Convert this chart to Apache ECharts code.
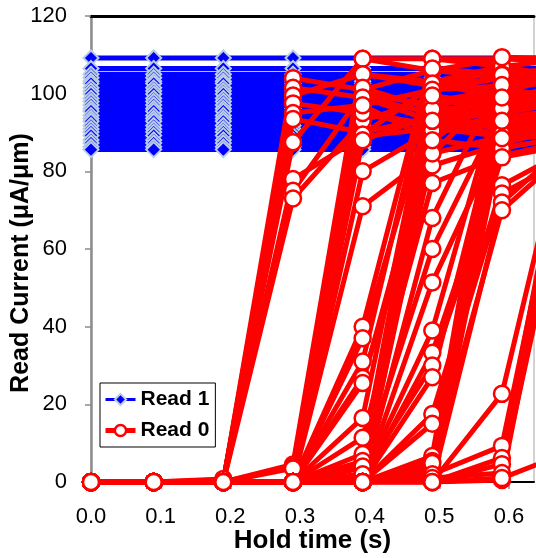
<!DOCTYPE html>
<html>
<head>
<meta charset="utf-8">
<script src="https://cdn.jsdelivr.net/npm/echarts@6/dist/echarts.min.js"></script>
<style>
html,body{margin:0;padding:0;background:#fff;}
#chart{width:536px;height:558px;}
</style>
</head>
<body>
<div id="chart"></div>
<script>
// Hold times (s) at which every cell was read
const holdTimes = [0, 0.09, 0.19, 0.29, 0.39, 0.49, 0.59, 0.69];
const xTickLabels = [0, 0.1, 0.2, 0.3, 0.4, 0.5, 0.6];
const yTickLabels = [0, 20, 40, 60, 80, 100, 120];

// Read 1 cells: current stays constant over hold time (uA/um)
const read1Levels = [109.2, 106.5, 105.0, 104.1, 103.2, 102.6, 101.5, 100.7, 99.9, 98.8, 98.0, 97.1,
  96.2, 95.5, 94.4, 93.6, 92.9, 91.8, 90.9, 90.1, 89.2, 88.1, 87.3, 86.3, 85.6];

// Read 0 cells, grouped by the hold time where they fail (values per hold time)
const read0FailAt029 = [
  [0, 0, 0, 104, 101, 106, 104, 105],
  [0, 0, 0, 101.5, 99, 95, 98, 103],
  [0, 0, 0, 99.5, 105, 103, 107, 104],
  [0, 0, 0, 97.5, 95, 92, 96, 99],
  [0, 0, 0, 95, 97, 101, 102, 97],
  [0, 0, 0.5, 93.5, 90, 94, 91, 93],
  [0, 0, 0, 87.5, 109, 109, 109, 109],
  [0, 0, 0, 78, 89, 91, 89, 91],
  [0, 0, 0.8, 75, 100, 97, 100, 106],
  [0, 0, 0, 73, 93, 99, 95, 101]
];
const read0FailAt039 = [
  [0, 0, 0, 4.5, 109, 106, 109, 108],
  [0, 0, 0, 0, 105, 102, 104, 106],
  [0, 0, 0, 4, 101.5, 96, 97, 100],
  [0, 0, 0, 0, 99, 93, 95, 98],
  [0, 0, 0, 0, 95, 91, 90, 92],
  [0, 0, 0, 3.5, 89.5, 102, 106, 103],
  [0, 0, 0, 0, 88, 94.5, 88, 90],
  [0, 0, 0, 0, 80, 90.5, 93, 96],
  [0, 0, 0, 0, 71, 84.5, 102, 105],
  [0, 0, 0, 0, 97, 88, 100, 99],
  [0, 0, 0, 0, 40, 109, 107, 109],
  [0, 0, 0, 0, 37, 98, 101, 104],
  [0, 0, 0, 0, 31, 106.5, 105, 107],
  [0, 0, 0, 0, 26.8, 81.5, 87, 92],
  [0, 0, 0, 0, 25.5, 91, 94, 96],
  [0, 0, 0, 0, 16.5, 102.6, 99, 102],
  [0, 0, 0, 0, 11.4, 77, 84, 88]
];
const read0FailAt049 = [
  [0, 0, 0, 0, 7.2, 101, 104, 101],
  [0, 0, 0, 0, 5.4, 94.4, 96, 97],
  [0, 0, 0, 0, 3.6, 90.5, 92, 94],
  [0, 0, 0, 0, 1.5, 84.6, 89, 91],
  [0, 0, 0, 0, 0, 96, 103, 108],
  [0, 0, 0, 0, 0.3, 88, 86, 89],
  [0, 0, 0, 0, 0, 99.5, 97, 100],
  [0, 0, 0, 0, 2, 93, 100, 95],
  [0, 0, 0, 0, 0, 68, 104.8, 107],
  [0, 0, 0, 0, 4, 60, 96, 100],
  [0, 0, 0, 0, 0, 51.4, 89.7, 92],
  [0, 0, 0, 0, 1, 39, 102, 104],
  [0, 0, 0, 0, 0, 33.3, 86, 89],
  [0, 0, 0, 0, 2, 30, 83.6, 87],
  [0, 0, 0, 0, 0, 27, 98, 101],
  [0, 0, 0, 0, 0, 17.5, 76.4, 86],
  [0, 0, 0, 0, 0, 15, 74.3, 84]
];
const read0FailAt059 = [
  [0, 0, 0, 0, 0, 6.7, 109.4, 109],
  [0, 0, 0, 0, 0, 5.4, 102.2, 105],
  [0, 0, 0, 0, 0, 3.6, 96.2, 98],
  [0, 0, 0, 0, 0, 2.3, 93, 95],
  [0, 0, 0, 0, 0, 0.8, 88.5, 90],
  [0, 0, 0, 0, 0, 0, 72, 88],
  [0, 0, 0, 0, 0, 4.9, 70, 86],
  [0, 0, 0, 0, 0, 1.5, 99, 102]
];
const read0FailAt069 = [
  [0, 0, 0, 0, 0, 0, 22.7, 98],
  [0, 0, 0, 0, 0, 2, 9.3, 95],
  [0, 0, 0, 0, 0, 0, 6.2, 100],
  [0, 0, 0, 0, 0, 0, 4.6, 90],
  [0, 0, 0, 0, 0, 1, 2.3, 85],
  [0, 0, 0, 0, 0, 0, 0.5, 92],
  [0, 0, 0, 0, 0, 0, 1, 8]
];

const FONT = 'Liberation Sans, Arial, sans-serif';
const series = [];
read1Levels.forEach(function (v) {
  series.push({
    type: 'line', name: 'Read 1',
    data: holdTimes.map(function (t) { return [t, v]; }),
    symbol: 'diamond', symbolSize: 15,
    lineStyle: { color: '#0000ff', width: 5 },
    itemStyle: { color: '#0000ff', borderColor: '#b9cde5', borderWidth: 2 },
    z: 2
  });
});
[read0FailAt029, read0FailAt039, read0FailAt049, read0FailAt059, read0FailAt069].forEach(function (group) {
  group.forEach(function (cell) {
    series.push({
      type: 'line', name: 'Read 0',
      data: holdTimes.map(function (t, i) { return [t, cell[i]]; }),
      symbol: 'circle', symbolSize: 16,
      lineStyle: { color: '#ff0000', width: 5 },
      itemStyle: { color: '#ffffff', borderColor: '#ff0000', borderWidth: 2.5 },
      z: 3
    });
  });
});

const chart = echarts.init(document.getElementById('chart'), null, { renderer: 'canvas' });
chart.setOption({
  animation: false,
  backgroundColor: '#ffffff',
  grid: { left: 91, right: 2, top: 16, bottom: 76, containLabel: false, outerBoundsMode: 'none',
    show: true, borderColor: '#a6a6a6', borderWidth: 1, backgroundColor: 'transparent' },
  legend: {
    orient: 'vertical', left: 100, top: 383,
    padding: [6, 6, 6, 3], itemGap: 10, itemWidth: 30, itemHeight: 14,
    backgroundColor: '#ffffff', borderColor: '#000000', borderWidth: 1, borderRadius: 0,
    textStyle: { fontFamily: FONT, fontSize: 21, fontWeight: 'bold', color: '#000' },
    data: [
      { name: 'Read 1', lineStyle: { type: 'dashed', width: 3, color: '#0000ff' }, itemStyle: { color: '#0000ff', borderColor: '#b9cde5', borderWidth: 2 } },
      { name: 'Read 0', lineStyle: { width: 5, color: '#ff0000' }, itemStyle: { color: '#ffffff', borderColor: '#ff0000', borderWidth: 2.5 } }
    ]
  },
  xAxis: [{
    type: 'value', min: 0, max: 0.636,
    name: 'Hold time (s)', nameLocation: 'middle', nameGap: 46, nameMoveOverlap: false,
    nameTextStyle: { fontFamily: FONT, fontSize: 26, fontWeight: 'bold', color: '#000' },
    axisLine: { show: true, onZero: false, lineStyle: { color: '#000', width: 2 } },
    axisTick: { show: true, inside: false, length: 7, lineStyle: { color: '#8c8c8c', width: 1.5 }, customValues: xTickLabels },
    axisLabel: { fontFamily: FONT, fontSize: 22, color: '#000', margin: 24, customValues: xTickLabels,
      formatter: function (v) { return v.toFixed(1); } },
    splitLine: { show: false }
  }, {
    type: 'value', min: 0, max: 0.636, position: 'top',
    axisLine: { show: true, onZero: false, lineStyle: { color: '#000', width: 3 } },
    axisTick: { show: false }, axisLabel: { show: false }, splitLine: { show: false }
  }],
  yAxis: {
    type: 'value', min: 0, max: 120, interval: 20,
    name: 'Read Current (μA/μm)', nameLocation: 'middle', nameGap: 57, nameMoveOverlap: false,
    nameTextStyle: { fontFamily: FONT, fontSize: 25, fontWeight: 'bold', color: '#000', padding: [0, 28, 0, 0] },
    axisLine: { show: true, onZero: false, lineStyle: { color: '#8c8c8c', width: 2.5 } },
    axisTick: { show: true, inside: false, length: 6, lineStyle: { color: '#8c8c8c', width: 1.5 } },
    axisLabel: { fontFamily: FONT, fontSize: 22, color: '#000', margin: 24,
      customValues: yTickLabels },
    splitLine: { show: false }
  },
  series: series
});
</script>
</body>
</html>
